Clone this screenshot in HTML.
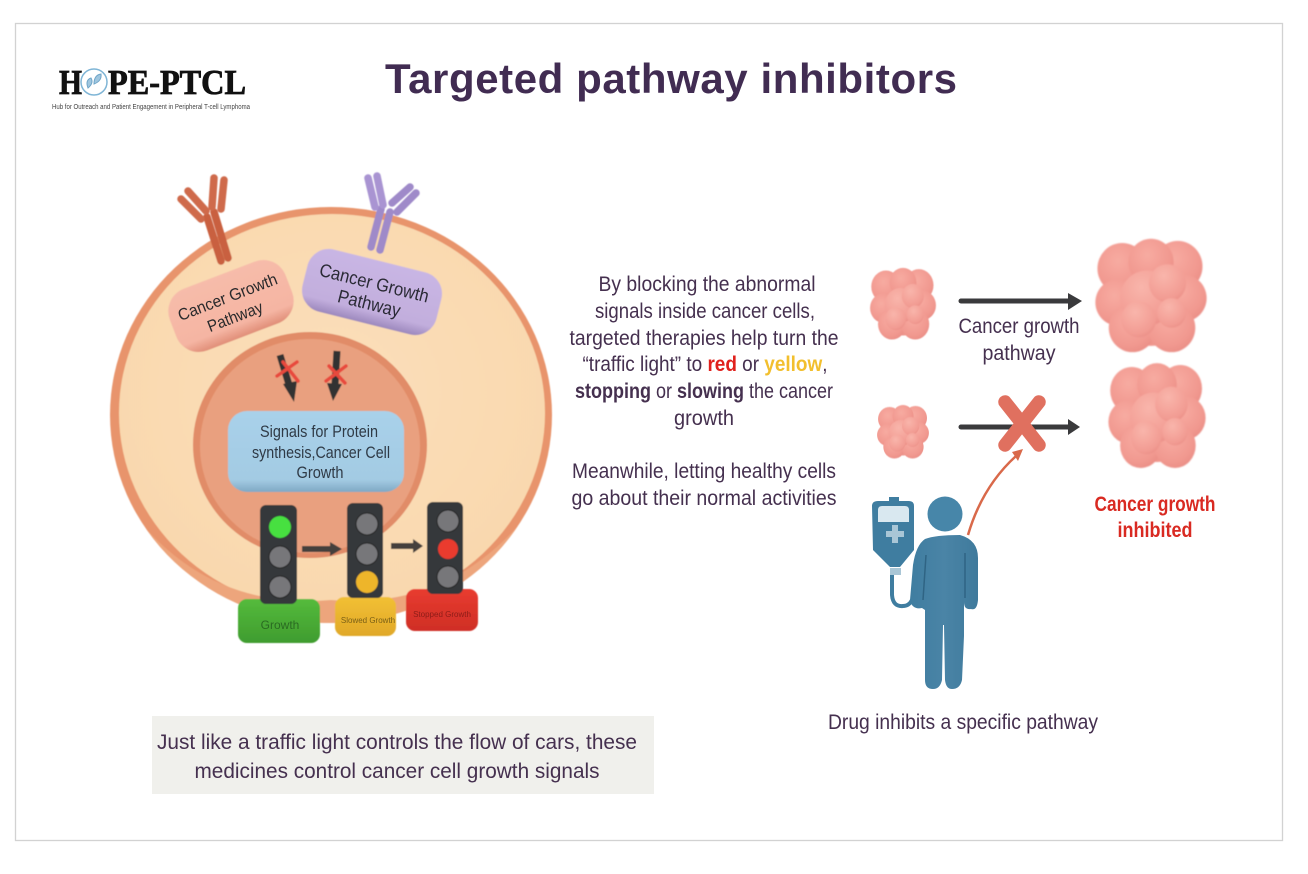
<!DOCTYPE html>
<html><head><meta charset="utf-8"><style>
html,body{margin:0;padding:0;background:#fff}
svg{display:block}
text{font-family:"Liberation Sans",sans-serif}
.t{font-size:21px;fill:#45304f;text-anchor:middle}
.k{fill:#77777a;stroke:#222;stroke-width:1}
</style></head><body>
<svg width="1308" height="874" viewBox="0 0 1308 874" xmlns="http://www.w3.org/2000/svg">
<defs>
<radialGradient id="b" cx=".42" cy=".35" r=".72"><stop offset="0" stop-color="#f7aba1"/><stop offset=".72" stop-color="#f1988f"/><stop offset="1" stop-color="#e88c84"/></radialGradient>
<radialGradient id="c" cx=".4" cy=".3" r=".75"><stop offset="0" stop-color="#f9b5ab"/><stop offset=".8" stop-color="#f29c93"/><stop offset="1" stop-color="#eb8f87"/></radialGradient>
<radialGradient id="cell" cx=".5" cy=".45" r=".55"><stop offset="0" stop-color="#fbdfbb"/><stop offset="1" stop-color="#f9d8ae"/></radialGradient>
<linearGradient id="bl" x1="0" y1="0" x2="0" y2="1"><stop offset="0" stop-color="#a9d1ea"/><stop offset=".85" stop-color="#a3cbe3"/><stop offset="1" stop-color="#7fa8c4"/></linearGradient>
<linearGradient id="pu" x1="0" y1="0" x2="0" y2="1"><stop offset="0" stop-color="#c9b6e4"/><stop offset=".8" stop-color="#c2aedd"/><stop offset="1" stop-color="#9c88bd"/></linearGradient>
<linearGradient id="pk" x1="0" y1="0" x2="0" y2="1"><stop offset="0" stop-color="#f7bcaa"/><stop offset=".8" stop-color="#f5b5a3"/><stop offset="1" stop-color="#e08e78"/></linearGradient>
<linearGradient id="pe" x1="0" y1="0" x2="1" y2="0"><stop offset="0" stop-color="#3f7da0"/><stop offset=".5" stop-color="#4a84a6"/><stop offset="1" stop-color="#3f7a9c"/></linearGradient>
<linearGradient id="gr" x1="0" y1="0" x2="0" y2="1"><stop offset="0" stop-color="#55bb3c"/><stop offset="1" stop-color="#3f9c2f"/></linearGradient>
<linearGradient id="ye" x1="0" y1="0" x2="0" y2="1"><stop offset="0" stop-color="#f2c035"/><stop offset="1" stop-color="#e0a828"/></linearGradient>
<linearGradient id="re" x1="0" y1="0" x2="0" y2="1"><stop offset="0" stop-color="#e83c30"/><stop offset="1" stop-color="#cf2e26"/></linearGradient>
<filter id="s" x="-5%" y="-5%" width="110%" height="110%"><feGaussianBlur stdDeviation=".6"/></filter>
<filter id="s2" x="-10%" y="-10%" width="120%" height="120%"><feGaussianBlur stdDeviation=".8"/></filter>
<clipPath id="cc"><ellipse cx="331" cy="415" rx="221" ry="208"/></clipPath>
<g id="cl" filter="url(#s2)">
<circle cx="0" cy="0" r="47" fill="#ef958c"/>
<circle cx="-28" cy="-26" r="24" fill="url(#b)"/><circle cx="26" cy="-28" r="24" fill="url(#b)"/><circle cx="0" cy="-32" r="22" fill="url(#b)"/>
<circle cx="32" cy="2" r="22" fill="url(#b)"/><circle cx="-32" cy="6" r="22" fill="url(#b)"/><circle cx="-18" cy="30" r="23" fill="url(#b)"/><circle cx="20" cy="30" r="23" fill="url(#b)"/>
<circle cx="-4" cy="2" r="26" fill="url(#c)"/><circle cx="16" cy="-12" r="18" fill="url(#c)"/><circle cx="-12" cy="22" r="17" fill="url(#c)"/><circle cx="20" cy="16" r="14" fill="url(#c)"/>
</g>
</defs>
<rect width="1308" height="874" fill="#fff"/>
<rect x="15.500" y="23.500" width="1267" height="817" fill="#fff" stroke="#d2d2d2" stroke-width="1.300"/>

<!-- logo -->
<text x="59" y="94" font-size="35" font-weight="bold" textLength="23" lengthAdjust="spacingAndGlyphs" style="font-family:'Liberation Serif',serif" fill="#111" stroke="#111" stroke-width=".8">H</text>
<circle cx="94" cy="82" r="13" fill="#fff" stroke="#7fb5d6" stroke-width="1.500"/>
<path d="M88 88q-3-8 3-10q3 5-3 10zM94 84q0-9 7-10q1 7-7 10z" fill="#9fc6df" stroke="#6fa5c8"/>
<text x="108" y="94" font-size="35" font-weight="bold" textLength="138" lengthAdjust="spacingAndGlyphs" style="font-family:'Liberation Serif',serif" fill="#111" stroke="#111" stroke-width=".8">PE-PTCL</text>
<text x="52" y="109" font-size="7" fill="#444" textLength="198" lengthAdjust="spacingAndGlyphs">Hub for Outreach and Patient Engagement in Peripheral T-cell Lymphoma</text>

<text x="385" y="93" font-size="42" font-weight="bold" fill="#412c52" textLength="572" lengthAdjust="spacing">Targeted pathway inhibitors</text>

<!-- cell -->
<g filter="url(#s)">
<ellipse cx="331" cy="415" rx="221" ry="208" fill="#e8946c"/>
<ellipse cx="332" cy="413" rx="213" ry="199" fill="url(#cell)"/>
<path clip-path="url(#cc)" d="M110 480Q190 612 331 600Q470 612 552 480V640H110Z" fill="#eda57c"/>
<ellipse cx="310" cy="445" rx="117" ry="113" fill="#e18c68"/>
<ellipse cx="310" cy="446" rx="110" ry="107" fill="#e9a07f"/>

<!-- antibodies -->
<g fill="none" stroke-linecap="round">
<path d="M207 217L221 261M214 212L228 258" stroke="#c9603f" stroke-width="7.500"/>
<path d="M181 199L201 219M188 191L206 211" stroke="#cf6a4c" stroke-width="7.500"/>
<path d="M214 178L212 207M224 180L221 209" stroke="#cf6a4c" stroke-width="7.500"/>
<path d="M381 209L371 247M390 212L380 250" stroke="#9f8ac9" stroke-width="7.500"/>
<path d="M368 178L375 207M377 176L383 205" stroke="#a994d2" stroke-width="7.500"/>
<path d="M392 203L410 187M397 212L416 193" stroke="#9f8ac9" stroke-width="7.500"/>
</g>

<!-- pathway pills -->
<g transform="translate(231,306) rotate(-21)"><rect x="-62" y="-33" width="124" height="66" rx="24" fill="url(#pk)"/></g>
<g transform="translate(372,292) rotate(14)"><rect x="-69" y="-32" width="138" height="64" rx="22" fill="url(#pu)"/></g>

<!-- inhibited arrows -->
<path d="M280 355L290 388" stroke="#333" stroke-width="7"/><path d="M283 384L297 381L294 402Z" fill="#333"/>
<path d="M337 351L335 385" stroke="#333" stroke-width="7"/><path d="M327 383L342 384L333 401Z" fill="#333"/>
<path d="M277 376L297 362M283 362L298 381M326 381L346 366M329 366L345 383" stroke="#e8483c" stroke-width="3.500" stroke-linecap="round"/>

<!-- blue box -->
<rect x="228" y="411" width="176" height="81" rx="19" fill="url(#bl)"/>

<!-- bases -->
<rect x="238" y="599" width="82" height="44" rx="9" fill="url(#gr)"/>
<rect x="335" y="597" width="61" height="39" rx="9" fill="url(#ye)"/>
<rect x="406" y="589" width="72" height="42" rx="9" fill="url(#re)"/>

<!-- lights -->
<rect x="260" y="505" width="37" height="99" rx="6" fill="#35373a"/>
<circle cx="280" cy="527" r="11" fill="#46e040"/><circle class="k" cx="280" cy="557" r="11"/><circle class="k" cx="280" cy="587" r="11"/>
<rect x="347" y="503" width="36" height="95" rx="6" fill="#35373a"/>
<circle class="k" cx="367" cy="524" r="11"/><circle class="k" cx="367" cy="554" r="11"/><circle cx="367" cy="582" r="11" fill="#eeb52c"/>
<rect x="427" y="502" width="36" height="92" rx="6" fill="#35373a"/>
<circle class="k" cx="448" cy="521" r="11"/><circle cx="448" cy="549" r="10" fill="#ea3a2e"/><circle class="k" cx="448" cy="577" r="11"/>
<path d="M302 546H330V542L342 549L330 556V552H302Z" fill="#44413e"/>
<path d="M391 543H413V539L423 546L413 553V549H391Z" fill="#44413e"/>
</g>

<!-- box labels -->
<g transform="translate(231,306) rotate(-21)" fill="#2a2a2c" text-anchor="middle" font-size="16.500">
<text x="0" y="-4" textLength="105" lengthAdjust="spacingAndGlyphs">Cancer Growth</text><text x="0" y="17" textLength="58" lengthAdjust="spacingAndGlyphs">Pathway</text></g>
<g transform="translate(372,292) rotate(14)" fill="#2a2a35" text-anchor="middle" font-size="18.500">
<text x="0" y="-3" textLength="112" lengthAdjust="spacingAndGlyphs">Cancer Growth</text><text x="0" y="18" textLength="64" lengthAdjust="spacingAndGlyphs">Pathway</text></g>
<g font-size="17" text-anchor="middle" fill="#2f3a46">
<text x="319" y="437" textLength="118" lengthAdjust="spacingAndGlyphs">Signals for Protein</text>
<text x="321" y="458" textLength="138" lengthAdjust="spacingAndGlyphs">synthesis,Cancer Cell</text>
<text x="320" y="478" textLength="47" lengthAdjust="spacingAndGlyphs">Growth</text>
</g>
<text x="280" y="629" font-size="12" text-anchor="middle" fill="#2a6b22">Growth</text>
<text x="368" y="623" font-size="8" text-anchor="middle" fill="#7a5f15">Slowed Growth</text>
<text x="442" y="617" font-size="8" text-anchor="middle" fill="#8d1d18">Stopped Growth</text>

<!-- main text -->
<text class="t" x="707" y="291" textLength="217" lengthAdjust="spacingAndGlyphs">By blocking the abnormal</text>
<text class="t" x="705" y="318" textLength="220" lengthAdjust="spacingAndGlyphs">signals inside cancer cells,</text>
<text class="t" x="704" y="345" textLength="269" lengthAdjust="spacingAndGlyphs">targeted therapies help turn the</text>
<text class="t" x="705" y="371" textLength="245" lengthAdjust="spacingAndGlyphs">“traffic light” to <tspan fill="#e0201c" font-weight="bold">red</tspan> or <tspan fill="#f2bf2e" font-weight="bold">yellow</tspan>,</text>
<text class="t" x="704" y="398" textLength="258" lengthAdjust="spacingAndGlyphs"><tspan font-weight="bold">stopping</tspan> or <tspan font-weight="bold">slowing</tspan> the cancer</text>
<text class="t" x="704" y="425" textLength="60" lengthAdjust="spacingAndGlyphs">growth</text>
<text class="t" x="704" y="478" textLength="264" lengthAdjust="spacingAndGlyphs">Meanwhile, letting healthy cells</text>
<text class="t" x="704" y="505" textLength="265" lengthAdjust="spacingAndGlyphs">go about their normal activities</text>

<!-- grey box -->
<rect x="152" y="716" width="502" height="78" fill="#f0f0ec"/>
<text class="t" x="397" y="749" textLength="480" lengthAdjust="spacingAndGlyphs">Just like a traffic light controls the flow of cars, these</text>
<text class="t" x="397" y="778" textLength="405" lengthAdjust="spacingAndGlyphs">medicines control cancer cell growth signals</text>

<!-- clusters -->
<use href="#cl" transform="translate(903,304) scale(.61,.67)"/>
<use href="#cl" transform="translate(1151,296) scale(1.03,1.06)"/>
<use href="#cl" transform="translate(903,432) scale(.48,.5)"/>
<use href="#cl" transform="translate(1157,416) scale(.9,.98)"/>

<!-- arrows -->
<path d="M961 301H1070" stroke="#3a3a3c" stroke-width="5" stroke-linecap="round"/><path d="M1068 293L1082 301L1068 310Z" fill="#3a3a3c"/>
<path d="M961 427H1068" stroke="#3a3a3c" stroke-width="5" stroke-linecap="round"/><path d="M1068 419L1080 427L1068 435Z" fill="#3a3a3c"/>
<path d="M1005 402L1039 445M1039 402L1005 445" stroke="#e0705f" stroke-width="13.500" stroke-linecap="round"/>
<path d="M968 535Q982 487 1016 456" stroke="#d9694a" stroke-width="2.500" fill="none"/><path d="M1012 452L1023 449L1018 461Z" fill="#d9694a"/>

<text class="t" x="1019" y="333" textLength="121" lengthAdjust="spacingAndGlyphs">Cancer growth</text>
<text class="t" x="1019" y="360" textLength="73" lengthAdjust="spacingAndGlyphs">pathway</text>
<text class="t" x="1155" y="511" style="fill:#d92a22" font-weight="bold" textLength="121" lengthAdjust="spacingAndGlyphs">Cancer growth</text>
<text class="t" x="1155" y="537" style="fill:#d92a22" font-weight="bold" textLength="75" lengthAdjust="spacingAndGlyphs">inhibited</text>
<text class="t" x="963" y="729" textLength="270" lengthAdjust="spacingAndGlyphs">Drug inhibits a specific pathway</text>

<!-- person + IV -->
<path d="M892 575V595Q893 607 903 606Q909 606 912 600" fill="none" stroke="#3f7da0" stroke-width="4"/>
<path d="M872 506Q872 501 878 501H889V497H899V501H909Q914 501 914 506V550L900 567H890L873 550Z" fill="#3f7da0"/>
<path d="M878 510Q878 506 882 506H905Q909 506 909 510V522H878Z" fill="#d9e8f0"/>
<path d="M892 525h6v6h6v6h-6v6h-6v-6h-6v-6h6z" fill="#a9c6d6"/>
<rect x="890" y="568" width="11" height="7" fill="#a9c6d6"/>
<circle cx="945" cy="514" r="17.500" fill="#4786a9"/>
<path d="M925 539Q935 535 960 535Q978 540 978 558V600Q977 611 971 609Q964 610 964 602V636L962 680Q960 689 952 689Q946 689 945 680L944 625H943L942 680Q940 689 933 689Q925 689 925 680V610L922 608Q912 610 910 600L913 565Q916 545 925 539Z" fill="url(#pe)"/>
<path d="M965 553V598M926 555L923 600" stroke="#2f6484" stroke-width="1.500" fill="none"/>
</svg>
</body></html>
